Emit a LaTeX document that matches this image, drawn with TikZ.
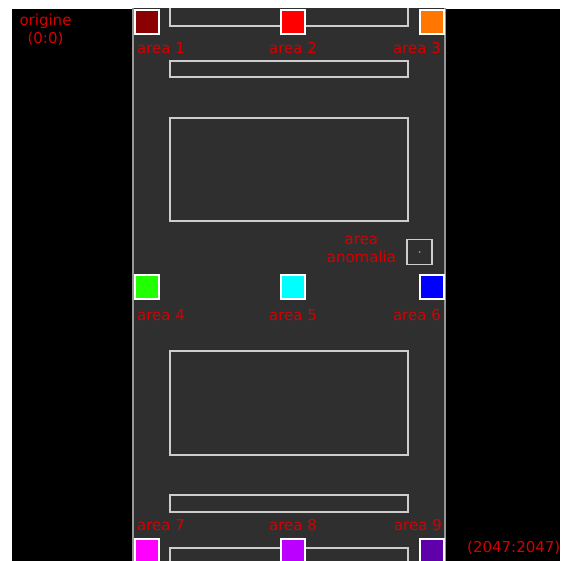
\documentclass[tikz,border=0pt]{standalone}
\usepackage{fontspec}
\setmainfont{DejaVu Sans}
\usepackage{tikz}
\usetikzlibrary{positioning}

\definecolor{labelred}{RGB}{215,0,0}
\definecolor{stripgray}{RGB}{47,47,47}
\definecolor{edgegray}{RGB}{150,150,150}
\definecolor{slotgray}{RGB}{205,205,205}
\definecolor{cone}{RGB}{139,0,0}
\definecolor{ctwo}{RGB}{255,0,0}
\definecolor{cthree}{RGB}{255,119,0}
\definecolor{cfour}{RGB}{34,255,0}
\definecolor{cfive}{RGB}{0,255,255}
\definecolor{csix}{RGB}{0,0,255}
\definecolor{cseven}{RGB}{255,0,255}
\definecolor{ceight}{RGB}{187,0,255}
\definecolor{cnine}{RGB}{96,0,170}

\begin{document}
\begin{tikzpicture}[
  x=1pt, y=-1pt,
  area/.style={draw=white, line width=2pt, minimum size=24pt, inner sep=0pt},
  lbl/.style={text=labelred, font=\fontsize{15}{18}\selectfont, inner sep=0pt},
  slot/.style={draw=slotgray, line width=1.5pt}
]
\useasboundingbox (0,0) rectangle (560,561);
\fill[black] (12,9) rectangle (560,561);
\clip (12,9) rectangle (560,561);
% the strip
\draw[fill=stripgray, draw=edgegray, line width=2pt] (133,0) rectangle (445,575);
\draw[slot] (170,0) rectangle (408,26);
\draw[slot] (170,61) rectangle (408,77);
\draw[slot] (170,118) rectangle (408,221);
\draw[slot] (170,351) rectangle (408,455);
\draw[slot] (170,495) rectangle (408,512);
\draw[slot] (170,548) rectangle (408,580);

% areas
\node[area, fill=cone]   (a1) at (147,22) {};
\node[area, fill=ctwo]   (a2) at (293,22) {};
\node[area, fill=cthree] (a3) at (432,22) {};
\node[area, fill=cfour]  (a4) at (147,286.5) {};
\node[area, fill=cfive]  (a5) at (293,286.5) {};
\node[area, fill=csix]   (a6) at (432,286.5) {};
\node[area, fill=cseven] (a7) at (147,551) {};
\node[area, fill=ceight] (a8) at (293,551) {};
\node[area, fill=cnine]  (a9) at (432,551) {};

\node[lbl, below=7.5pt of a1.south west, anchor=north west, xshift=3pt] (l1) {area 1};
\node[lbl, below=7.5pt of a2] (l2) {area 2};
\node[lbl, below=7.5pt of a3.south east, anchor=north east, xshift=-4pt] (l3) {area 3};
\node[lbl, below=10pt of a4.south west, anchor=north west, xshift=3pt] (l4) {area 4};
\node[lbl, below=10pt of a5] (l5) {area 5};
\node[lbl, below=10pt of a6.south east, anchor=north east, xshift=-4pt] (l6) {area 6};
\node[lbl, above=7pt of a7.north west, anchor=south west, xshift=3pt] (l7) {area 7};
\node[lbl, above=7pt of a8] (l8) {area 8};
\node[lbl, above=7pt of a9.north east, anchor=south east, xshift=-3pt] (l9) {area 9};

% anomaly
\node[draw=slotgray, line width=1.5pt, minimum size=25pt, inner sep=0pt] (anom) at (419.5,252) {};
\fill[edgegray] (anom.center) circle (1pt);
\node[lbl, align=center, left=10pt of anom, yshift=3pt] (lanom) {area\\anomalia};

% corners
\node[lbl, align=center, anchor=north] (orig) at (45.5,13.5) {origine\\(0:0)};
\node[lbl, anchor=north west] (fine) at (467,541) {(2047:2047)};
\end{tikzpicture}
\end{document}
